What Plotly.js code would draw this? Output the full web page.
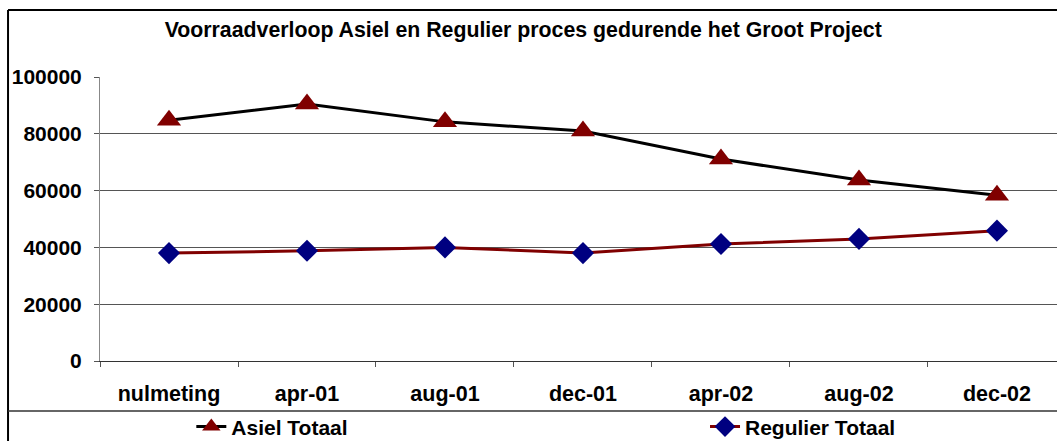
<!DOCTYPE html>
<html>
<head>
<meta charset="utf-8">
<script src="https://cdn.plot.ly/plotly-3.0.1.min.js"></script>
<style>
  html, body { margin: 0; padding: 0; background: #ffffff; }
  #chart { width: 1057px; height: 441px; }
</style>
</head>
<body>
<div id="chart"></div>
<script>
const categories = ['nulmeting', 'apr-01', 'aug-01', 'dec-01', 'apr-02', 'aug-02', 'dec-02'];
const asielTotaal = [84800, 90500, 84200, 81000, 71100, 63700, 58400];
const regulierTotaal = [38000, 38800, 40000, 38000, 41200, 43000, 45900];
const yTicks = [0, 20000, 40000, 60000, 80000, 100000];

const FONT = 'Arial, "Liberation Sans", Helvetica, sans-serif';

const traces = [
  {
    type: 'scatter', mode: 'lines+markers', name: 'Asiel Totaal',
    x: categories, y: asielTotaal,
    line: { color: '#000000', width: 3 },
    marker: { symbol: 'triangle-up', size: 21, color: '#800000' },
    legend: 'legend'
  },
  {
    type: 'scatter', mode: 'lines+markers', name: 'Regulier Totaal',
    x: categories, y: regulierTotaal,
    line: { color: '#800000', width: 3 },
    marker: { symbol: 'diamond', size: 17, color: '#000080' },
    legend: 'legend2'
  }
];

const layout = {
  width: 1057, height: 441,
  margin: { l: 100, r: 0, t: 77, b: 80 },
  paper_bgcolor: '#ffffff', plot_bgcolor: '#ffffff',
  font: { family: FONT, color: '#000000' },
  title: {
    text: 'Voorraadverloop Asiel en Regulier proces gedurende het Groot Project',
    font: { family: FONT, size: 21.3, weight: 700, color: '#000000' },
    xref: 'container', x: 0.495, xanchor: 'center',
    yref: 'container', y: 0.932, yanchor: 'middle'
  },
  xaxis: {
    type: 'category',
    range: [-0.5, 6.435],
    showgrid: false,
    showline: true, linecolor: '#333333', linewidth: 1,
    ticks: 'outside', tickson: 'boundaries', ticklen: 5, tickcolor: '#555555',
    tickfont: { family: FONT, size: 21.5, weight: 700, color: '#000000' },
    ticklabelstandoff: 13,
    zeroline: false, fixedrange: true
  },
  yaxis: {
    range: [0, 100000],
    tickmode: 'array', tickvals: yTicks, ticktext: yTicks.map(String),
    showgrid: true, gridcolor: '#555555', gridwidth: 1,
    showline: true, linecolor: '#888888', linewidth: 1,
    ticks: 'outside', ticklen: 5, tickcolor: '#555555',
    tickfont: { family: FONT, size: 21, weight: 700, color: '#000000' },
    ticklabelstandoff: 8,
    zeroline: false, fixedrange: true
  },
  showlegend: true,
  legend: {
    orientation: 'h',
    xref: 'container', x: 0.181, xanchor: 'left',
    yref: 'container', y: 0.032, yanchor: 'middle',
    font: { family: FONT, size: 21, weight: 700, color: '#000000' },
    bgcolor: 'rgba(0,0,0,0)', borderwidth: 0
  },
  legend2: {
    orientation: 'h',
    xref: 'container', x: 0.667, xanchor: 'left',
    yref: 'container', y: 0.032, yanchor: 'middle',
    font: { family: FONT, size: 21, weight: 700, color: '#000000' },
    bgcolor: 'rgba(0,0,0,0)', borderwidth: 0
  },
  shapes: [
    { type: 'line', xref: 'paper', yref: 'paper', x0: -0.0961, x1: 1.01, y0: 1.2359, y1: 1.2359,
      line: { color: '#000000', width: 2 } },
    { type: 'line', xref: 'paper', yref: 'paper', x0: -0.0961, x1: -0.0961, y0: 1.2359, y1: -0.35,
      line: { color: '#000000', width: 2 } },
    { type: 'line', xref: 'paper', yref: 'paper', x0: -0.0961, x1: 1.01, y0: -0.176, y1: -0.176,
      line: { color: '#333333', width: 1.5 } }
  ]
};

Plotly.newPlot('chart', traces, layout, { displayModeBar: false, staticPlot: true });
</script>
</body>
</html>
